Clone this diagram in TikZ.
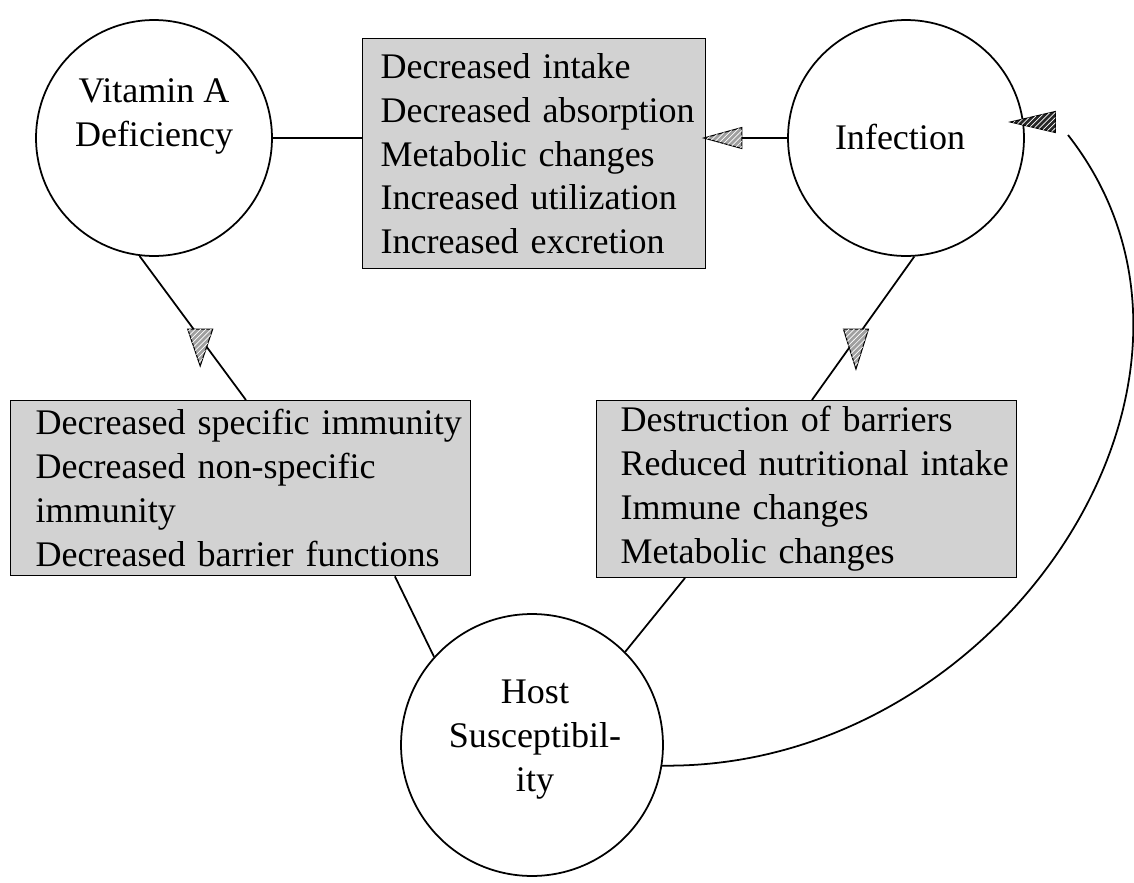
\documentclass[tikz,border=0pt]{standalone}
\usepackage{fontspec}
\setmainfont{Liberation Serif}
\usetikzlibrary{shapes.geometric,patterns}

\tikzset{
  ring/.style={draw, circle, line width=1pt, minimum size=4.72cm, inner sep=0pt},
  causebox/.style={draw, line width=0.8pt, fill=gray!35, align=left, anchor=north west,
    execute at begin node={\hyphenpenalty=10000\exhyphenpenalty=10000\hbadness=10000\hfuzz=2cm}},
  flowtip/.style={isosceles triangle, isosceles triangle stretches, draw, line width=0.6pt,
    fill=gray!75, postaction={pattern=north east lines, pattern color=white}, inner sep=0pt},
  link/.style={line width=1pt},
  every node/.append style={font=\fontsize{20.5}{25}\selectfont}
}

\begin{document}
\begin{tikzpicture}[x=0.02cm, y=-0.02cm]
        \useasboundingbox (0,0) rectangle (1134,883);

        % circles
        \node[ring] (vit) at (154,138) {};
        \node[align=center] (vittext) at (154,116) {Vitamin A\\Deficiency};
        \node[ring] (inf) at (906,138) {};
        \node (inftext) at (900,137) {Infection};
        \node[ring, minimum size=5.24cm] (host) at (532,745) {};
        \node[align=center] (hosttext) at (535,740) {Host\\Susceptibil-\\ity};

        % boxes
        \node[causebox, minimum width=6.86cm, minimum height=4.6cm, text width=6.14cm, inner xsep=0.36cm] (tbox) at (362,38)
          {Decreased~intake\\Decreased~absorption\\Metabolic~changes\\Increased~utilization\\Increased~excretion};
        \node[causebox, minimum width=9.2cm, minimum height=3.5cm, text width=8.2cm, inner xsep=0.5cm] (lbox) at (10,400)
          {Decreased~specific~immunity\\Decreased~non-specific\\immunity\\Decreased~barrier~functions};
        \node[causebox, minimum width=8.4cm, minimum height=3.5cm, text width=7.44cm, inner xsep=0.48cm] (rbox) at (596,400)
          {Destruction~of~barriers\\Reduced~nutritional~intake\\Immune~changes\\Metabolic~changes};

        % connectors
        \draw[link] (vit.east) -- (vit.east -| tbox.west);
        \draw[link] (inf.west) -- node[flowtip, rotate=180, pos=0.66, minimum width=0.42cm, minimum height=0.76cm] (itip) {} (inf.west -| tbox.east);
        \draw[link] (vit.-97) -- node[flowtip, rotate=-90, pos=0.57, minimum width=0.5cm, minimum height=0.74cm] (vtip) {} ([xshift=4.72cm]lbox.north west);
        \draw[link] (inf.-86) -- node[flowtip, rotate=-90, pos=0.57, minimum width=0.5cm, minimum height=0.8cm] (rtip) {} ([xshift=4.32cm]rbox.north west);
        \draw[link] ([xshift=7.7cm]lbox.south west) -- (host.138);
        \draw[link] ([xshift=1.78cm]rbox.south west) -- (host.45);

        % feedback loop
        \node[flowtip, rotate=180, minimum width=0.42cm, minimum height=0.9cm, fill=black!85] (htip) at (1047,122) {};
        \draw[link] (host.-9) .. controls (1000,770) and (1260,380) .. ([shift={(1068,135)}]0,0) coordinate (loopend);
\end{tikzpicture}
\end{document}
